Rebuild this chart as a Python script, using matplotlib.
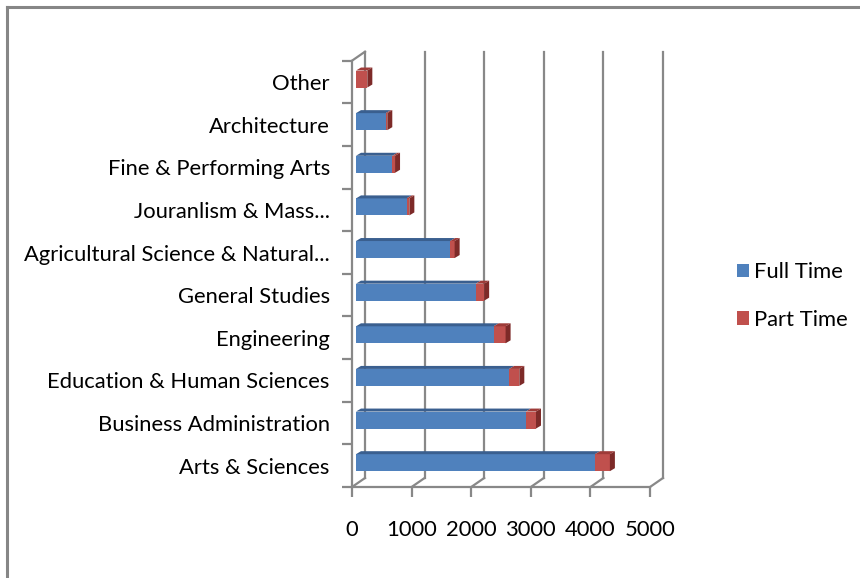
import matplotlib
matplotlib.use("Agg")
import matplotlib.pyplot as plt
from matplotlib.patches import Polygon, Patch
from matplotlib.lines import Line2D

categories = ["Arts & Sciences", "Business Administration", "Education & Human Sciences",
              "Engineering", "General Studies", "Agricultural Science & Natural...",
              "Jouranlism & Mass...", "Fine & Performing Arts", "Architecture", "Other"]
full_time = [4010, 2850, 2570, 2310, 2010, 1580, 850, 610, 500, 0]
part_time = [250, 170, 170, 200, 140, 75, 45, 45, 25, 190]
xticks = [0, 1000, 2000, 3000, 4000, 5000]
series_names = ["Full Time", "Part Time"]

W, H = 860, 578
fig = plt.figure(figsize=(W / 100, H / 100), dpi=100)
plt.rcParams['font.family'] = ['Lato', 'DejaVu Sans']
FS = 15.8

x0p, x1p = 352, 650
ytop, ybot = 60.7, 487
ax = fig.add_axes([x0p / W, (H - ybot) / H, (x1p - x0p) / W, (ybot - ytop) / H])
XMAX = 5000
ax.set_xlim(0, XMAX)
ax.set_ylim(-0.5, len(categories) - 0.5)
for s in ax.spines.values():
    s.set_visible(False)
ax.patch.set_alpha(0)

# pixel -> data conversions
pxx = XMAX / (x1p - x0p)
pxy = len(categories) / (ybot - ytop)

grid_c = "#888888"
lw = 1.6
# back wall offset
bdx, bdy = 13 * pxx, 9 * pxy
ylo, yhi = -0.5, len(categories) - 0.5
for v in xticks:
    ax.plot([v + bdx, v + bdx], [ylo + bdy, yhi + bdy], color=grid_c, lw=lw, clip_on=False, zorder=1)
    ax.plot([v, v + bdx], [ylo, ylo + bdy], color=grid_c, lw=lw, clip_on=False, zorder=1)
# front floor edge
ax.plot([0, XMAX], [ylo, ylo], color=grid_c, lw=lw, clip_on=False, zorder=1)
# left wall
ax.plot([0, 0], [ylo, yhi], color=grid_c, lw=lw, clip_on=False, zorder=1)
ax.plot([0, bdx], [yhi, yhi + bdy], color=grid_c, lw=lw, clip_on=False, zorder=1)

# ticks
ax.set_xticks(xticks)
ax.set_xticklabels([str(v) for v in xticks])
ax.tick_params(axis='x', length=7, width=lw, color=grid_c, pad=17, labelsize=FS, labelcolor="black")
ax.set_yticks(range(len(categories)))
ax.set_yticklabels(categories)
ax.set_yticks([i - 0.5 for i in range(len(categories) + 1)], minor=True)
ax.tick_params(axis='y', which='major', length=0, pad=16, labelsize=FS, labelcolor="black")
ax.tick_params(axis='y', which='minor', length=7, width=lw, color=grid_c)

# bars with pseudo 3D
fdx, fdy = 4 * pxx, 3 * pxy      # front face shift from front plane
ddx, ddy = 5 * pxx, 3 * pxy      # bar depth
bh = 17 * pxy
blue, blue_top = "#4f81bd", "#3a5f8f"
red, red_top, red_side = "#c0504d", "#9e3b38", "#7d2a28"
ys = [i + fdy for i in range(len(categories))]
ax.barh(ys, full_time, height=bh, left=[fdx] * len(categories), color=blue, zorder=3)
lefts = [fdx + f for f in full_time]
ax.barh(ys, part_time, height=bh, left=lefts, color=red, zorder=3)
for i in range(len(categories)):
    y = ys[i]
    top = y + bh / 2
    bot = y - bh / 2
    a = fdx
    b = fdx + full_time[i]
    c = b + part_time[i]
    if full_time[i] > 0:
        ax.add_patch(Polygon([(a, top), (b, top), (b + ddx, top + ddy), (a + ddx, top + ddy)],
                             closed=True, facecolor=blue_top, edgecolor='none', zorder=3, clip_on=False))
    ax.add_patch(Polygon([(b, top), (c, top), (c + ddx, top + ddy), (b + ddx, top + ddy)],
                         closed=True, facecolor=red_top, edgecolor='none', zorder=3, clip_on=False))
    ax.add_patch(Polygon([(c, bot), (c, top), (c + ddx, top + ddy), (c + ddx, bot + ddy)],
                         closed=True, facecolor=red_side, edgecolor='none', zorder=3, clip_on=False))

# legend
handles = [Patch(facecolor=blue, edgecolor='none'), Patch(facecolor=red, edgecolor='none')]
fig.legend(handles, series_names, loc='center left', bbox_to_anchor=(717 / W, 1 - 296 / H),
           frameon=False, fontsize=FS, handlelength=0.55, handleheight=0.55, handletextpad=0.25,
           labelspacing=1.25)

# outer frame (top and left visible)
fig.add_artist(Line2D([7 / W, 7 / W], [0, 1 - 7 / H], transform=fig.transFigure, color="#868686", lw=2.2))
fig.add_artist(Line2D([7 / W, 1], [1 - 7 / H, 1 - 7 / H], transform=fig.transFigure, color="#868686", lw=2.2))

fig.savefig("out.png", dpi=100)
